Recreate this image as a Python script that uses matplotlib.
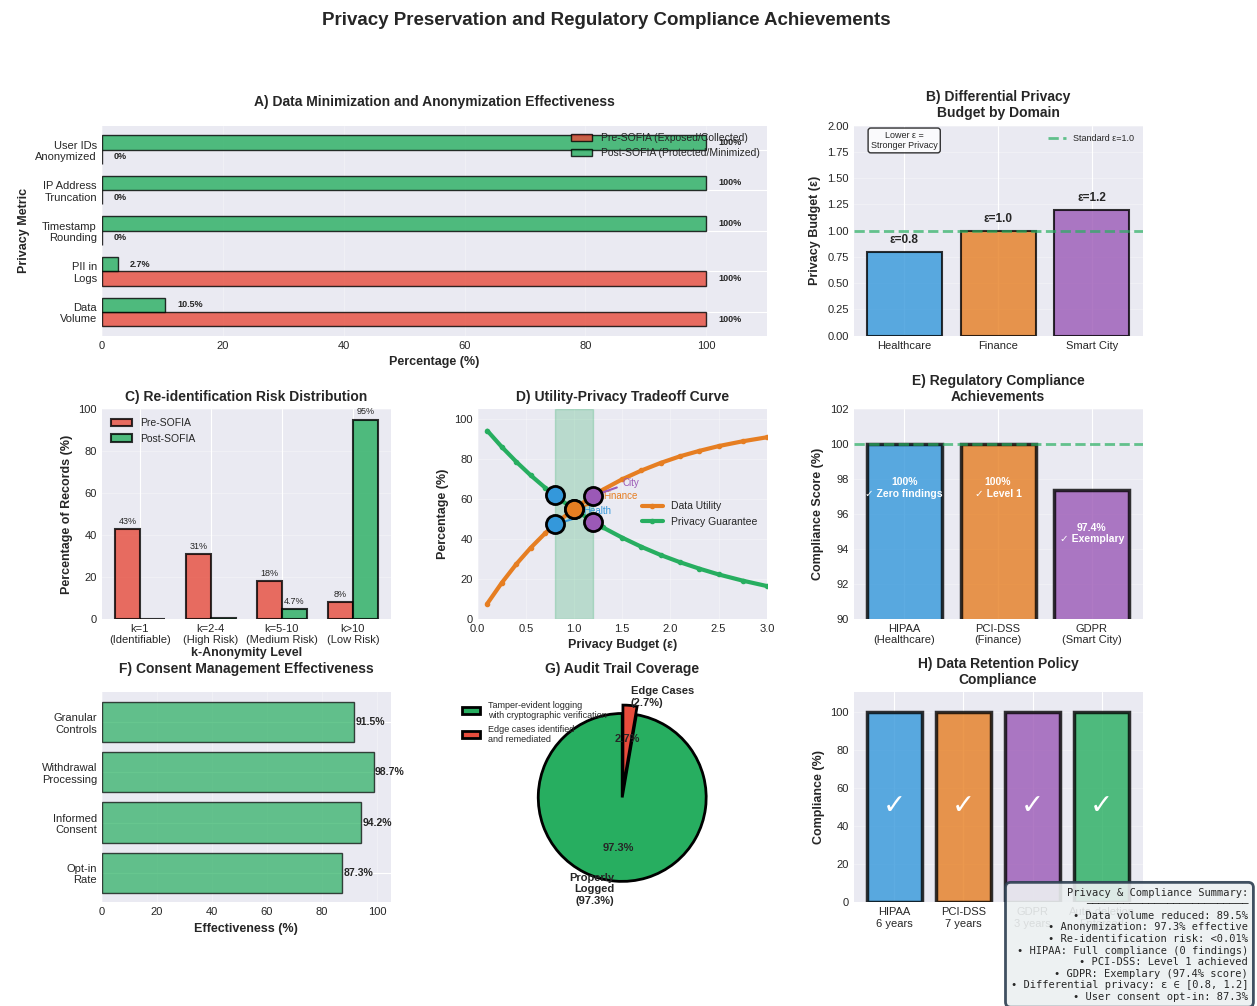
import matplotlib
matplotlib.use('Agg')
import matplotlib.pyplot as plt
import numpy as np

plt.style.use('seaborn-v0_8-darkgrid')
plt.rcParams['font.family'] = ['Liberation Sans', 'DejaVu Sans']
plt.rcParams['legend.frameon'] = False

RED = '#E74C3C'
GREEN = '#27AE60'
BLUE = '#3498DB'
ORANGE = '#E67E22'
PURPLE = '#9B59B6'

# A) data minimization (bottom to top)
metrics = ['Data\nVolume', 'PII in\nLogs', 'Timestamp\nRounding', 'IP Address\nTruncation', 'User IDs\nAnonymized']
pre_sofia = [100, 100, 0, 0, 0]
post_sofia = [10.5, 2.7, 100, 100, 100]

# B) differential privacy budgets
dp_domains = ['Healthcare', 'Finance', 'Smart City']
dp_epsilon = [0.8, 1.0, 1.2]

# C) k-anonymity buckets
k_levels = ['k=1\n(Identifiable)', 'k=2-4\n(High Risk)', 'k=5-10\n(Medium Risk)', 'k>10\n(Low Risk)']
k_pre = [43, 31, 18, 8]
k_post = [0.01, 0.29, 4.7, 95]

# D) utility / privacy tradeoff
eps_grid = [0.1, 0.25, 0.4, 0.55, 0.7, 0.85, 1.0, 1.15, 1.3, 1.5, 1.7, 1.9, 2.1, 2.3, 2.5, 2.75, 3.0]
utility = [7.7, 18.1, 27.4, 35.6, 42.9, 49.3, 55.1, 60.1, 64.7, 69.9, 74.3, 78.1, 81.4, 84.1, 86.5, 88.9, 90.9]
privacy = [94.2, 86.1, 78.7, 71.9, 65.7, 60.0, 54.9, 50.2, 45.8, 40.7, 36.1, 32.0, 28.4, 25.2, 22.3, 19.2, 16.5]
point_names = ['Health', 'Finance', 'City']
point_eps = [0.8, 1.0, 1.2]
point_utility = [47.3, 55.1, 61.7]
point_privacy = [61.9, 54.9, 48.7]

# E) regulatory compliance
regulations = ['HIPAA\n(Healthcare)', 'PCI-DSS\n(Finance)', 'GDPR\n(Smart City)']
reg_scores = [100, 100, 97.4]
reg_notes = ['Zero findings', 'Level 1', 'Exemplary']

# F) consent management (bottom to top)
consent_items = ['Opt-in\nRate', 'Informed\nConsent', 'Withdrawal\nProcessing', 'Granular\nControls']
consent_scores = [87.3, 94.2, 98.7, 91.5]

# G) audit trail
audit_values = [97.3, 2.7]
audit_legend = ['Tamper-evident logging\nwith cryptographic verification', 'Edge cases identified\nand remediated']

# H) retention policies
retention = ['HIPAA\n6 years', 'PCI-DSS\n7 years', 'GDPR\n3 years', 'Auto-deletion\nEnforced']
retention_scores = [100, 100, 100, 100]

summary = '\n'.join([
    'Privacy & Compliance Summary:',
    '─' * 26,
    '• Data volume reduced: 89.5%',
    '• Anonymization: 97.3% effective',
    '• Re-identification risk: <0.01%',
    '• HIPAA: Full compliance (0 findings)',
    '• PCI-DSS: Level 1 achieved',
    '• GDPR: Exemplary (97.4% score)',
    '• Differential privacy: ε ∈ [0.8, 1.2]',
    '• User consent opt-in: 87.3%',
])

fig = plt.figure(figsize=(12.57, 10.06), dpi=100)
gs = fig.add_gridspec(3, 3, left=0.081, right=0.909, top=0.875, bottom=0.103,
                      wspace=0.3, hspace=0.35)
fig.suptitle('Privacy Preservation and Regulatory Compliance Achievements',
             fontsize=13.5, fontweight='bold', x=0.482, y=0.988)

TITLE = dict(fontsize=10, fontweight='bold')
LABEL = dict(fontsize=9, fontweight='bold')

# ---- A
ax = fig.add_subplot(gs[0, :2])
y = np.arange(len(metrics))
h = 0.35
ax.barh(y - h / 2, pre_sofia, h, color=RED, alpha=0.8, edgecolor='black', linewidth=1,
        label='Pre-SOFIA (Exposed/Collected)')
ax.barh(y + h / 2, post_sofia, h, color=GREEN, alpha=0.8, edgecolor='black', linewidth=1,
        label='Post-SOFIA (Protected/Minimized)')
for yi, v in zip(y - h / 2, pre_sofia):
    ax.text(v + 2, yi, f'{v:g}%', va='center', fontsize=6.5, fontweight='bold')
for yi, v in zip(y + h / 2, post_sofia):
    ax.text(v + 2, yi, f'{v:g}%', va='center', fontsize=6.5, fontweight='bold')
ax.set_yticks(y)
ax.set_yticklabels(metrics, fontsize=8)
ax.set_xlim(0, 110)
ax.tick_params(axis='x', labelsize=8)
ax.set_xlabel('Percentage (%)', **LABEL)
ax.set_ylabel('Privacy Metric', **LABEL)
ax.set_title('A) Data Minimization and Anonymization Effectiveness', pad=14, **TITLE)
ax.legend(loc='upper right', fontsize=7.5, borderaxespad=0.3)
ax.grid(axis='x', alpha=0.3)

# ---- B
ax = fig.add_subplot(gs[0, 2])
xb = np.arange(len(dp_domains))
ax.bar(xb, dp_epsilon, 0.8, color=[BLUE, ORANGE, PURPLE], alpha=0.8, edgecolor='black', linewidth=1.5)
for xi, v in zip(xb, dp_epsilon):
    ax.text(xi, v + 0.05, f'ε={v}', ha='center', va='bottom', fontsize=8.5, fontweight='bold')
ax.axhline(1.0, color=GREEN, linestyle='--', linewidth=2, alpha=0.7, label='Standard ε=1.0')
ax.text(0, 1.86, 'Lower ε =\nStronger Privacy', ha='center', va='center', fontsize=6.5,
        bbox=dict(boxstyle='round,pad=0.3', facecolor='white', edgecolor='black', alpha=0.8))
ax.set_xticks(xb)
ax.set_xticklabels(dp_domains, fontsize=8)
ax.tick_params(axis='y', labelsize=8)
ax.set_ylim(0, 2.0)
ax.set_ylabel('Privacy Budget (ε)', **LABEL)
ax.set_title('B) Differential Privacy\nBudget by Domain', **TITLE)
ax.legend(loc='upper right', fontsize=6.5)
ax.grid(axis='y', alpha=0.3)

# ---- C
ax = fig.add_subplot(gs[1, 0])
xc = np.arange(len(k_levels))
w = 0.35
ax.bar(xc - w / 2, k_pre, w, color=RED, alpha=0.8, edgecolor='black', linewidth=1.5, label='Pre-SOFIA')
ax.bar(xc + w / 2, k_post, w, color=GREEN, alpha=0.8, edgecolor='black', linewidth=1.5, label='Post-SOFIA')
for xi, v in zip(xc - w / 2, k_pre):
    ax.text(xi, v + 1.5, f'{v:g}%', ha='center', va='bottom', fontsize=6.5)
for xi, v in zip(xc + w / 2, k_post):
    if v > 1:
        ax.text(xi, v + 1.5, f'{v:g}%', ha='center', va='bottom', fontsize=6.5)
ax.set_xticks(xc)
ax.set_xticklabels(k_levels, fontsize=8)
ax.tick_params(axis='y', labelsize=8)
ax.set_ylim(0, 100)
ax.set_xlabel('k-Anonymity Level', labelpad=1, **LABEL)
ax.set_ylabel('Percentage of Records (%)', **LABEL)
ax.set_title('C) Re-identification Risk Distribution', **TITLE)
ax.legend(loc='upper left', fontsize=7.5)
ax.grid(axis='y', alpha=0.3)

# ---- D
ax = fig.add_subplot(gs[1, 1])
ax.axvspan(0.8, 1.2, color=GREEN, alpha=0.25)
ax.plot(eps_grid, utility, color=ORANGE, linewidth=3, marker='o', markersize=3, label='Data Utility')
ax.plot(eps_grid, privacy, color=GREEN, linewidth=3, marker='o', markersize=3, label='Privacy Guarantee')
for name, e, u, p, c in zip(point_names, point_eps, point_utility, point_privacy, [BLUE, ORANGE, PURPLE]):
    ax.scatter([e, e], [u, p], s=170, color=c, edgecolor='black', linewidth=2, zorder=5)
    ax.annotate(name, xy=(e, u), xytext=(e + 0.3, u + 5), fontsize=7, color=c,
                arrowprops=dict(arrowstyle='-', color=c, lw=1.5))
ax.set_xlim(0, 3.0)
ax.set_ylim(0, 105)
ax.tick_params(labelsize=8)
ax.set_xlabel('Privacy Budget (ε)', **LABEL)
ax.set_ylabel('Percentage (%)', **LABEL)
ax.set_title('D) Utility-Privacy Tradeoff Curve', **TITLE)
ax.legend(loc='center right', fontsize=7.5)
ax.grid(True, alpha=0.3)

# ---- E
ax = fig.add_subplot(gs[1, 2])
xe = np.arange(len(regulations))
ax.bar(xe, reg_scores, 0.8, color=[BLUE, ORANGE, PURPLE], alpha=0.8, edgecolor='black', linewidth=2.5)
ax.axhline(100, color=GREEN, linestyle='--', linewidth=2, alpha=0.7)
for xi, v, note in zip(xe, reg_scores, reg_notes):
    ax.text(xi, v - 2.5, f'{v:g}%\n✓ {note}', ha='center', va='center', fontsize=7.5,
            fontweight='bold', color='white')
ax.set_xticks(xe)
ax.set_xticklabels(regulations, fontsize=8)
ax.tick_params(axis='y', labelsize=8)
ax.set_ylim(90, 102)
ax.set_ylabel('Compliance Score (%)', **LABEL)
ax.set_title('E) Regulatory Compliance\nAchievements', **TITLE)
ax.grid(axis='y', alpha=0.3)

# ---- F
ax = fig.add_subplot(gs[2, 0])
yf = np.arange(len(consent_items))
ax.barh(yf, consent_scores, 0.8, color=GREEN, alpha=0.7, edgecolor='black', linewidth=1)
for yi, v in zip(yf, consent_scores):
    ax.text(v + 0.5, yi, f'{v}%', va='center', fontsize=7.5, fontweight='bold')
ax.set_yticks(yf)
ax.set_yticklabels(consent_items, fontsize=8)
ax.tick_params(axis='x', labelsize=8)
ax.set_xlim(0, 105)
ax.set_xlabel('Effectiveness (%)', **LABEL)
ax.set_title('F) Consent Management Effectiveness', pad=14, **TITLE)
ax.grid(axis='x', alpha=0.3)

# ---- G
ax = fig.add_subplot(gs[2, 1])
wedges, _, _ = ax.pie(audit_values,
                      labels=[f'Properly\nLogged\n({audit_values[0]}%)', f'Edge Cases\n({audit_values[1]}%)'],
                      colors=[GREEN, RED], explode=(0, 0.1), autopct='%1.1f%%', startangle=90,
                      wedgeprops=dict(edgecolor='black', linewidth=2),
                      textprops=dict(fontsize=8, fontweight='bold'))
ax.legend(wedges, audit_legend, loc='upper left', bbox_to_anchor=(-0.3, 1.0), fontsize=6.5)
ax.set_title('G) Audit Trail Coverage', pad=14, **TITLE)

# ---- H
ax = fig.add_subplot(gs[2, 2])
xh = np.arange(len(retention))
ax.bar(xh, retention_scores, 0.8, color=[BLUE, ORANGE, PURPLE, GREEN], alpha=0.8,
       edgecolor='black', linewidth=2.5)
for xi, v in zip(xh, retention_scores):
    ax.text(xi, v / 2, '✓', ha='center', va='center', fontsize=20, fontweight='bold', color='white')
ax.set_xticks(xh)
ax.set_xticklabels(retention, fontsize=8)
ax.tick_params(axis='y', labelsize=8)
ax.set_ylim(0, 110)
ax.set_ylabel('Compliance (%)', **LABEL)
ax.set_title('H) Data Retention Policy\nCompliance', **TITLE)
ax.grid(axis='y', alpha=0.3)

fig.text(0.993, 0.004, summary, ha='right', va='bottom', fontsize=7.5, family='DejaVu Sans Mono',
         bbox=dict(boxstyle='round,pad=0.5', facecolor='#ECF0F1', edgecolor='#2C3E50',
                   linewidth=2, alpha=0.9))

fig.savefig('out.png', dpi=100)
